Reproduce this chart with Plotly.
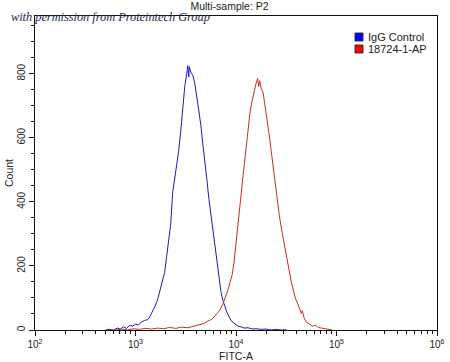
import math
import plotly.graph_objects as go

# log10(FITC-A) bin positions and counts
igg_log = [2.70, 2.74, 2.78, 2.82, 2.85, 2.88, 2.91, 2.94, 2.97, 3.00, 3.03, 3.06, 3.09, 3.12, 3.14,
           3.17, 3.20, 3.22, 3.25, 3.27, 3.29, 3.31, 3.33, 3.35, 3.37, 3.39, 3.41, 3.43, 3.45, 3.47,
           3.49, 3.51, 3.52, 3.53, 3.535, 3.55, 3.57, 3.59, 3.61, 3.63, 3.65, 3.67, 3.69, 3.71, 3.73,
           3.75, 3.77, 3.79, 3.81, 3.83, 3.85, 3.87, 3.89, 3.91, 3.93, 3.95, 3.97, 3.99, 4.02, 4.05,
           4.08, 4.12, 4.16, 4.20, 4.25, 4.30, 4.35, 4.40, 4.45, 4.50]
igg_count = [0, 2, 0, 6, 3, 10, 5, 14, 12, 18, 16, 25, 30, 32, 40,
             58, 78, 95, 130, 150, 180, 230, 280, 330, 430, 470, 510, 560, 620, 700,
             760, 800, 825, 790, 822, 805, 795, 770, 730, 690, 640, 580, 530, 470, 410,
             360, 310, 260, 210, 160, 120, 92, 70, 55, 42, 30, 24, 18, 12, 10,
             6, 7, 3, 4, 2, 3, 0, 2, 0, 1]

ab_log = [2.80, 2.86, 2.92, 2.98, 3.04, 3.10, 3.16, 3.22, 3.28, 3.34, 3.40, 3.46, 3.52, 3.56, 3.60,
          3.64, 3.68, 3.72, 3.75, 3.78, 3.81, 3.84, 3.87, 3.90, 3.92, 3.94, 3.96, 3.98, 4.00, 4.02,
          4.04, 4.06, 4.08, 4.10, 4.12, 4.14, 4.16, 4.18, 4.20, 4.215, 4.225, 4.235, 4.25, 4.27, 4.29,
          4.31, 4.33, 4.35, 4.37, 4.39, 4.41, 4.43, 4.45, 4.47, 4.49, 4.51, 4.53, 4.55, 4.57, 4.59,
          4.61, 4.63, 4.65, 4.66, 4.68, 4.70, 4.73, 4.76, 4.79, 4.82, 4.85, 4.88, 4.92, 4.96]
ab_count = [0, 3, 0, 4, 2, 5, 3, 6, 4, 8, 5, 9, 7, 10, 12,
            16, 20, 28, 32, 40, 50, 62, 82, 105, 125, 148, 170, 210, 265, 330,
            395, 450, 510, 570, 630, 680, 715, 745, 770, 785, 760, 778, 755, 740, 700,
            660, 610, 560, 510, 455, 400, 360, 320, 285, 250, 215, 180, 150, 125, 100,
            85, 65, 52, 60, 35, 25, 18, 12, 15, 8, 6, 4, 2, 0]

series_names = ["IgG Control", "18724-1-AP"]
swatch_colors = ["#0000ff", "#ff0000"]
x_tick_exps = [2, 3, 4, 5, 6]
x_tick_text = ["10<sup>2</sup>", "10<sup>3</sup>", "10<sup>4</sup>", "10<sup>5</sup>", "10<sup>6</sup>"]
y_tick_vals = [0, 200, 400, 600, 800]

blue = "#1c1cb0"
red = "#cc2a2a"

fig = go.Figure()
fig.add_trace(go.Scatter(x=igg_log, y=igg_count, mode="lines", line=dict(color=blue, width=1),
                         name=series_names[0], showlegend=False))
fig.add_trace(go.Scatter(x=ab_log, y=ab_count, mode="lines", line=dict(color=red, width=1),
                         name=series_names[1], showlegend=False))

minor_vals = [n + math.log10(k) for n in range(2, 6) for k in range(2, 10)]

W, H = 450, 362
L, R, T, B = 35, 13, 16, 32
PW, PH = W - L - R, H - T - B

def px_x(px):
    return (px - L) / PW

def px_y(py):
    return (H - B - py) / PH

fig.update_layout(
    width=W, height=H,
    margin=dict(l=L, r=R, t=T, b=B, autoexpand=False),
    paper_bgcolor="white", plot_bgcolor="white",
    font=dict(family="Liberation Sans, Arial, sans-serif", size=10, color="#222"),
    title=dict(text="Multi-sample: P2", x=0.51, xanchor="center", y=0.994, yanchor="top",
               font=dict(size=10.5, color="#222")),
    showlegend=False,
    xaxis=dict(range=[2, 6], tickvals=x_tick_exps, ticktext=x_tick_text, showgrid=False,
               zeroline=False, showline=True, linecolor="#111", linewidth=1, mirror=True,
               ticks="outside", ticklen=5, tickcolor="#111", automargin=False,
               minor=dict(tickvals=minor_vals, ticks="outside", ticklen=3, tickcolor="#111"),
               title=dict(text="FITC-A", standoff=0, font=dict(size=10.5)),
               tickfont=dict(size=10)),
    yaxis=dict(range=[0, 980], tickvals=y_tick_vals, showgrid=False, zeroline=False,
               showline=True, linecolor="#111", linewidth=1, mirror=True, automargin=False,
               ticks="outside", ticklen=5, tickcolor="#111", tickangle=-90,
               minor=dict(dtick=50, ticks="outside", ticklen=3, tickcolor="#111"),
               title=dict(text="Count", standoff=0, font=dict(size=10.5)),
               tickfont=dict(size=10)),
)

# legend (swatches + labels)
for i, (name, col) in enumerate(zip(series_names, swatch_colors)):
    cy = 37 + i * 12
    fig.add_shape(type="rect", xref="paper", yref="paper",
                  x0=px_x(355), x1=px_x(363), y0=px_y(cy + 4), y1=px_y(cy - 4),
                  fillcolor=col, line=dict(color="#333", width=1))
    fig.add_annotation(text=name, xref="paper", yref="paper", x=px_x(366), y=px_y(cy),
                       xanchor="left", yanchor="middle", showarrow=False,
                       font=dict(size=11, color="#222"))

fig.add_annotation(text="<i>with permission from Proteintech Group</i>", xref="paper", yref="paper",
                   x=px_x(9), y=px_y(17), xanchor="left", yanchor="middle", showarrow=False,
                   font=dict(family="Liberation Serif, DejaVu Serif, serif", size=12.3, color="#24244e"))

fig.write_html("out.html", config={"displayModeBar": False},
               post_script="document.body.style.margin='0px';")
